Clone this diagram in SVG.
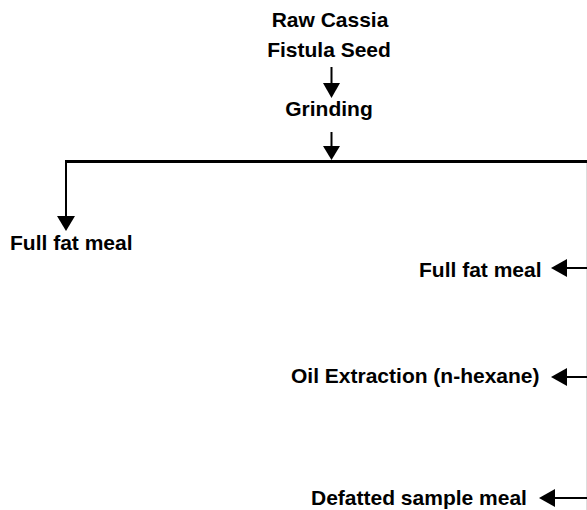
<svg xmlns="http://www.w3.org/2000/svg" width="587" height="510" viewBox="0 0 587 510">
<style>
.t{font-family:"Liberation Sans",Arial,sans-serif;font-weight:bold;font-size:21px;fill:#000}
.c{text-anchor:middle}
.ln{stroke:#000;stroke-width:2;fill:none}
.hd{fill:#000}
</style>
<rect width="587" height="510" fill="#fff"/>
<g id="node-raw"><text class="t c" x="330" y="27">Raw Cassia</text><text class="t c" x="329" y="57">Fistula Seed</text></g>
<g id="node-grinding"><text class="t c" x="329" y="116">Grinding</text></g>
<g id="node-fullfat-left"><text class="t" x="10" y="250">Full fat meal</text></g>
<g id="node-fullfat-right"><text class="t" x="419" y="277">Full fat meal</text></g>
<g id="node-oil"><text class="t" x="291" y="383">Oil Extraction (n-hexane)</text></g>
<g id="node-defatted"><text class="t" x="311" y="505">Defatted sample meal</text></g>
<g id="connectors">
<line class="ln" x1="331.5" y1="67" x2="331.5" y2="85"/>
<polygon class="hd" points="323,83 340,83 331.5,98"/>
<line class="ln" x1="331.5" y1="132" x2="331.5" y2="148"/>
<polygon class="hd" points="323,146 340,146 331.5,160"/>
<line x1="65" y1="161.5" x2="587" y2="161.5" stroke="#000" stroke-width="3"/>
<line class="ln" x1="66" y1="161" x2="66" y2="218"/>
<polygon class="hd" points="57,216 75,216 66,231"/>
<line x1="586.5" y1="163" x2="586.5" y2="510" stroke="#ddd" stroke-width="1"/>
<line class="ln" x1="565" y1="268" x2="587" y2="268"/>
<polygon class="hd" points="567,259 567,277 551,268"/>
<line class="ln" x1="565" y1="377" x2="587" y2="377"/>
<polygon class="hd" points="567,368 567,386 551,377"/>
<line class="ln" x1="553" y1="498" x2="587" y2="498"/>
<polygon class="hd" points="555,489 555,507 539,498"/>
</g>
</svg>
